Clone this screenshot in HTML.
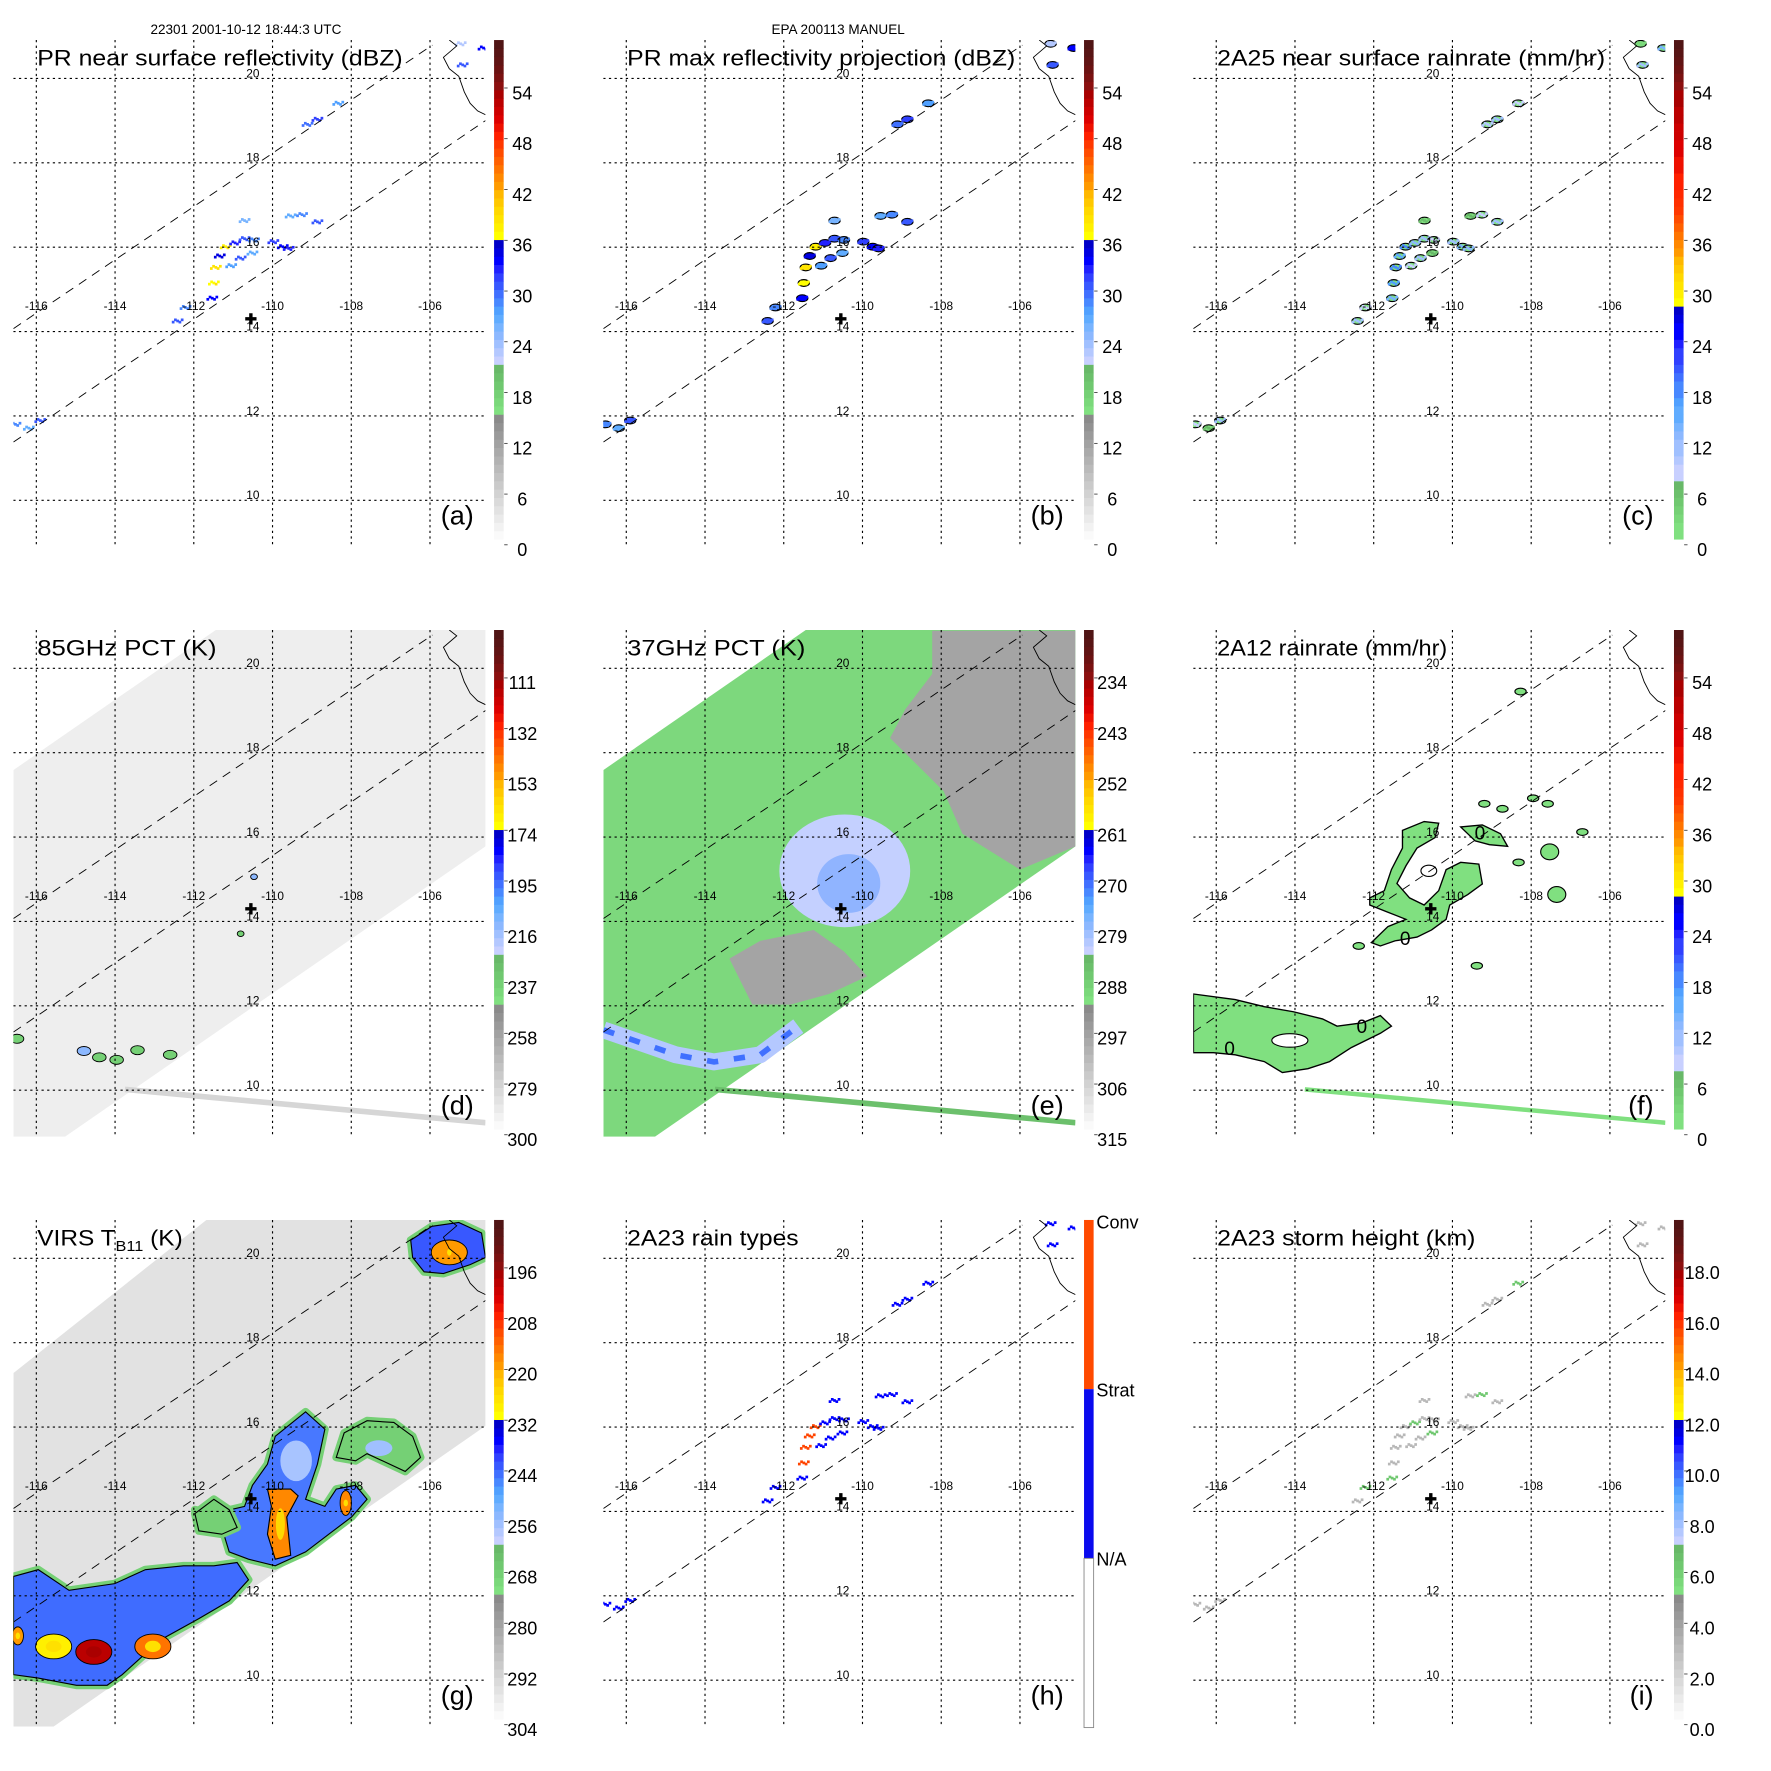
<!DOCTYPE html>
<html><head><meta charset="utf-8"><style>
html,body{margin:0;padding:0;background:#fff;}
svg{display:block;}
</style></head><body>
<svg id="fig" xmlns="http://www.w3.org/2000/svg" viewBox="0 0 1570 1570" width="1771" height="1771" font-family="Liberation Sans, Arial, sans-serif">
<defs><clipPath id="mapclip" clipPathUnits="userSpaceOnUse"><rect x="11.8" y="35.5" width="418.5" height="449.3"/></clipPath></defs>
<rect x="0" y="0" width="1570" height="1570" fill="#fff"/>
<text x="218" y="30" font-size="12" text-anchor="middle">22301 2001-10-12 18:44:3 UTC</text>
<text x="743" y="30" font-size="12" text-anchor="middle">EPA 200113 MANUEL</text>
</svg>
<script>
// ---- data ----
const lonTicks=[-116,-114,-112,-110,-108,-106];
const latTicks=[20,18,16,14,12,10];
const center=[-110.55,14.3];
const echoLon=[-111.53,-111.49,-111.44,-111.34,-111.19,-110.95,-110.71,-110.47,-111.05,-110.81,-110.51,-109.98,-109.74,-109.59,-109.54,-109.25,-108.86,-110.71,-109.11,-108.86,-108.33,-116.53,-116.19,-115.90,-112.41,-112.21,-105.22,-104.64,-105.17];
const echoLat=[14.79,15.15,15.52,15.79,16.01,16.10,16.20,16.17,15.56,15.74,15.86,16.13,16.01,15.97,16.74,16.77,16.60,16.63,18.91,19.03,19.41,11.80,11.71,11.89,14.25,14.57,20.82,20.72,20.32];
const echoVal=[33,36,38,34,37,32,30,28,27,30,26,31,33,32,26,28,30,25,29,31,27,28,26,30,30,28,22,33,30];
const coastLon=[-105.51,-105.32,-105.66,-105.51,-105.27,-105.13,-104.98,-104.79,-104.59];
const coastLat=[20.91,20.77,20.50,20.23,20.05,19.68,19.41,19.23,19.14];
const swathLine1Lon=[-116.58,-105.94], swathLine1Lat=[14.07,20.79];
const swathLine2Lon=[-116.58,-104.59], swathLine2Lat=[11.38,19.0];
const tmiSwathLon=[-116.58,-111.44,-104.59,-104.59,-115.27,-116.58];
const tmiSwathLat=[17.59,20.91,20.91,15.78,8.9,8.9];
const virsSwathLon=[-116.58,-111.68,-104.59,-104.59,-115.56,-116.58];
const virsSwathLat=[17.28,20.91,20.91,16.03,8.9,8.9];
const edgeLineLon=[-113.75,-104.59], edgeLineLat=[10.02,9.23];
const grayNELon=[-108.23,-104.59,-104.59,-106,-107.46,-107.94,-109.3,-108.91,-108.23];
const grayNELat=[20.89,20.89,15.78,15.23,16.08,17.09,18.35,19.03,19.87];
const graySLon=[-113.38,-112.6,-111.24,-110.47,-109.88,-110.85,-111.83,-112.8];
const graySLat=[13.12,13.54,13.8,13.29,12.7,12.28,12.03,12.03];
const blueArcLon=[-116.58,-114.74,-113.77,-112.6,-111.63];
const blueArcLat=[11.43,10.84,10.67,10.84,11.52];
const fCoreLon=[-111.27,-110.72,-110.35,-110.44,-110.90,-111.18,-111.41,-111.09,-110.72,-110.35,-110.16,-109.79,-109.33,-109.24,-109.61,-110.07,-110.16,-110.53,-110.90,-111.46,-111.83,-112.06,-111.64,-111.18,-111.64,-112.10,-112.10,-111.73,-111.55,-111.27];
const fCoreLat=[16.16,16.37,16.33,15.99,15.74,15.32,14.90,14.56,14.39,14.73,15.23,15.40,15.36,14.89,14.64,14.39,14.05,13.80,13.63,13.54,13.42,13.50,13.88,14.05,14.22,14.39,14.56,14.73,15.23,15.74];
const fArmLon=[-109.79,-109.24,-108.78,-108.60,-109.06,-109.42];
const fArmLat=[16.24,16.29,16.08,15.78,15.82,15.91];
const fBandLon=[-116.58,-115.52,-114.78,-114.04,-113.30,-112.93,-112.29,-111.83,-111.55,-111.83,-112.57,-113.12,-113.67,-114.32,-114.78,-115.52,-116.07,-116.58];
const fBandLat=[12.28,12.15,11.98,11.86,11.69,11.52,11.60,11.77,11.52,11.35,11.01,10.68,10.51,10.42,10.68,10.84,10.89,10.89];
const fBlobLon=[-107.53,-107.35,-109.19,-108.73,-107.95,-107.58,-106.70,-108.27,-112.38,-108.32,-109.38];
const fBlobLat=[15.65,14.64,16.79,16.67,16.92,16.79,16.12,19.45,13.42,15.40,12.95];
const fZeroLon=[-109.3,-111.2,-112.3,-115.66], fZeroLat=[16.1,13.6,11.52,11.0];
const dBlobLon=[-116.49,-114.79,-114.40,-113.96,-113.43,-112.60,-110.47,-110.81];
const dBlobLat=[11.22,10.93,10.78,10.72,10.95,10.84,15.06,13.71];
const gBandLon=[-116.58,-115.95,-115.17,-114.01,-113.23,-112.26,-111.49,-110.90,-110.61,-111.10,-111.87,-112.84,-113.82,-114.20,-114.98,-115.95,-116.58];
const gBandLat=[12.46,12.62,12.13,12.29,12.62,12.71,12.71,12.79,12.38,11.88,11.46,10.96,10.13,9.88,9.88,10.05,10.13];
const gCoreLon=[-109.93,-109.16,-108.67,-108.86,-109.16,-108.67,-108.38,-107.89,-107.60,-107.99,-108.57,-109.16,-109.93,-110.61,-111.10,-111.29,-111.87,-111.97,-111.49,-110.71,-110.51,-110.13];
const gCoreLat=[15.78,16.36,15.95,15.12,14.29,14.12,14.53,14.62,14.29,13.87,13.46,13.04,12.71,12.87,13.04,13.62,13.70,14.04,13.95,14.12,14.62,15.12];
const gColdLon=[-110.13,-109.54,-109.35,-109.64,-109.54,-109.93,-110.13,-110.03];
const gColdLat=[14.53,14.53,14.37,13.87,12.96,12.87,13.46,14.12];
const gEastLon=[-108.18,-107.60,-106.92,-106.44,-106.24,-106.63,-107.21,-107.60,-107.89,-108.38];
const gEastLat=[15.86,16.15,16.11,15.78,15.28,14.95,15.20,15.37,15.20,15.28];
const gWestLon=[-111.97,-111.49,-111.10,-110.90,-111.29,-111.87];
const gWestLat=[13.95,14.29,14.04,13.62,13.46,13.54];
const gNELon=[-106.49,-105.95,-105.27,-104.69,-104.59,-104.98,-105.66,-106.15,-106.44];
const gNELat=[20.43,20.76,20.85,20.60,20.02,19.85,19.64,19.68,20.02];
const gColdBlobLon=[-115.56,-114.54,-113.04,-116.47,-108.14,-105.51];
const gColdBlobLat=[10.80,10.67,10.80,11.05,14.20,20.14];
const gColdBlobVal=[37,52,44,42,43,42];
const labelsA=['0','6','12','18','24','30','36','42','48','54'];
const labelsD=['300','279','258','237','216','195','174','153','132','111'];
const labelsE=['315','306','297','288','279','270','261','252','243','234'];
const labelsG=['304','292','280','268','256','244','232','220','208','196'];
const labelsI=['0.0','2.0','4.0','6.0','8.0','10.0','12.0','14.0','16.0','18.0'];

// ---- palettes ----
const greens=['#80e080','#7ad87a','#75d075','#70c870','#6cc06c','#68b868'];
const blues=['#c8d0ff','#b4c8ff','#a0c0ff','#8cb8ff','#78b4ff','#60acff','#50a0ff','#4888ff','#4070ff','#3858ff','#3040ff','#2020ff','#0000ff','#0000e0','#0000c8'];
const yellows=['#ffff00','#fff000','#ffe400','#ffd800','#ffc800','#ffb800'];
const oranges=['#ff9a00','#ff8800','#ff7400','#ff6000','#ff4c00','#ff3800'];
const reds=['#ff2000','#ee1000','#dd0000','#cc0000','#bb0000','#a80000'];
const darks=['#8b1010','#7a1111','#6b1212','#601414','#581515','#501515'];
const cellsA=[];
for(let u=0;u<15;u++){const l=250-u*8;cellsA.push('rgb('+l+','+l+','+l+')');}
cellsA.push(...greens,...blues,...yellows,...oranges,...reds,...darks);
const cellsC=[];
for(let i=0;i<7;i++)cellsC.push(greens[Math.floor(i*6/7)]);
for(let i=0;i<21;i++)cellsC.push(blues[Math.floor(i*15/21)]);
cellsC.push(...yellows.slice(0,5));
cellsC.push(yellows[5],...oranges,'#ff3000','#ff2800');
for(let i=0;i<12;i++)cellsC.push(reds[Math.floor(i/2)]);
cellsC.push(...darks);

// ---- helpers ----
const NS='http://www.w3.org/2000/svg';
const svg=document.getElementById('fig');
function X(lon){return 32.2+(lon+116)*34.9;}
function Y(lat){return 69.5+(20-lat)*37.4;}
function mk(tag,parent){const e=document.createElementNS(NS,tag);parent.appendChild(e);return e;}
function pts(lons,lats){return lons.map((l,i)=>X(l).toFixed(1)+','+Y(lats[i]).toFixed(1)).join(' ');}
function poly(parent,lons,lats,fill,stroke,sw){const p=mk('polygon',parent);p.setAttribute('points',pts(lons,lats));p.setAttribute('fill',fill);p.setAttribute('stroke',stroke||'none');if(sw)p.setAttribute('stroke-width',sw);return p;}
function ell(parent,lon,lat,rx,ry,fill,stroke,sw){const e=mk('ellipse',parent);e.setAttribute('cx',X(lon));e.setAttribute('cy',Y(lat));e.setAttribute('rx',rx);e.setAttribute('ry',ry);e.setAttribute('fill',fill);e.setAttribute('stroke',stroke||'none');if(sw)e.setAttribute('stroke-width',sw);return e;}
const offs=[[0,0],[2,1],[-2,-1],[4,-1],[-4,1]];

const panels=[
 {id:'a',title:'PR near surface reflectivity (dBZ)',tl:324,labels:labelsA,cells:cellsA},
 {id:'b',title:'PR max reflectivity projection (dBZ)',tl:344,labels:labelsA,cells:cellsA},
 {id:'c',title:'2A25 near surface rainrate (mm/hr)',tl:344,labels:labelsA,cells:cellsC},
 {id:'d',title:'85GHz PCT (K)',tl:159,labels:labelsD,cells:cellsA},
 {id:'e',title:'37GHz PCT (K)',tl:158,labels:labelsE,cells:cellsA},
 {id:'f',title:'2A12 rainrate (mm/hr)',tl:204,labels:labelsA,cells:cellsC},
 {id:'g',title:'VIRS',tl:129,labels:labelsG,cells:cellsA},
 {id:'h',title:'2A23 rain types',tl:152,labels:null,cells:null},
 {id:'i',title:'2A23 storm height (km)',tl:229,labels:labelsI,cells:cellsA}
];

panels.forEach((P,k)=>{
 const col=k%3,row=Math.floor(k/3);
 const g=mk('g',svg);
 g.setAttribute('transform','translate('+(col*523)+','+(row*523)+')');
 
 
 const map=mk('g',g);
 map.setAttribute('clip-path','url(#mapclip)');
 
 
 const data=mk('g',map);
 
 

 if(P.id==='d'||P.id==='e'){
  const sw=poly(data,tmiSwathLon,tmiSwathLat,P.id==='d'?'#eeeeee':'#7dd87d');
  
  
  const el=mk('line',data);
  el.setAttribute('x1',X(edgeLineLon[0]));el.setAttribute('y1',Y(edgeLineLat[0]));
  el.setAttribute('x2',X(edgeLineLon[1]));el.setAttribute('y2',Y(edgeLineLat[1]));
  el.setAttribute('stroke',P.id==='d'?'#d6d6d6':'#6cc06c');el.setAttribute('stroke-width','5');
  
  
 }
 if(P.id==='f'){
  const el=mk('line',data);
  el.setAttribute('x1',X(edgeLineLon[0]));el.setAttribute('y1',Y(edgeLineLat[0]));
  el.setAttribute('x2',X(edgeLineLon[1]));el.setAttribute('y2',Y(edgeLineLat[1]));
  el.setAttribute('stroke','#80e080');el.setAttribute('stroke-width','4');
  
  
 }
 if(P.id==='d'){
  dBlobLon.forEach((lon,i)=>{
   const e=ell(data,lon,dBlobLat[i],i>5?3:6,i>5?2.5:4,i===1||i===6?'#8cb8ff':'#75d075','#000','0.8');
   
   
  });
 }
 if(P.id==='e'){
  const a=poly(data,grayNELon,grayNELat,'#a4a4a4');
  
  
  const b=poly(data,graySLon,graySLat,'#a4a4a4');
  
  
  const c=ell(data,center[0]+0.1,center[1]+0.9,58,50,'#c4d0ff');
  
  
  const c2=ell(data,center[0]+0.2,center[1]+0.6,28,26,'#90b4ff');
  
  
  const arc=mk('polyline',data);
  arc.setAttribute('points',pts(blueArcLon,blueArcLat));
  arc.setAttribute('fill','none');arc.setAttribute('stroke','#b4c8ff');arc.setAttribute('stroke-width','15');arc.setAttribute('stroke-linejoin','round');
  
  
  const arc2=mk('polyline',data);
  arc2.setAttribute('points',pts(blueArcLon,blueArcLat));
  arc2.setAttribute('fill','none');arc2.setAttribute('stroke','#4070ff');arc2.setAttribute('stroke-width','5');arc2.setAttribute('stroke-dasharray','10,14');
  
  
 }
 if(P.id==='f'){
  [[fCoreLon,fCoreLat],[fArmLon,fArmLat],[fBandLon,fBandLat]].forEach((s,i)=>{
   const p=poly(data,s[0],s[1],'#80e080','#000','1.2');
   
   
  });
  const h=ell(data,-114.13,11.18,16,6,'#fff','#000','1');
  
  
  const h2=ell(data,-110.6,15.2,7,5,'#fff','#000','1');
  
  
  fBlobLon.forEach((lon,i)=>{
   const e=ell(data,lon,fBlobLat[i],i<2?8:5,i<2?7:3,'#80e080','#000','1');
   
   
  });
  fZeroLon.forEach((lon,i)=>{
   const t=mk('text',data);t.setAttribute('x',X(lon));t.setAttribute('y',Y(fZeroLat[i])+6);
   t.setAttribute('font-size','17');t.setAttribute('text-anchor','middle');t.textContent='0';
   
   
  });
 }
 if(P.id==='g'){
  const sw=poly(data,virsSwathLon,virsSwathLat,'#e2e2e2');
  
  
  const gr=[[gBandLon,gBandLat,'#3f6cff'],[gCoreLon,gCoreLat,'#4878ff'],[gEastLon,gEastLat,'#75d075'],[gWestLon,gWestLat,'#75d075'],[gNELon,gNELat,'#3858ff']];
  gr.forEach((s,i)=>{
   const o=poly(data,s[0],s[1],'#75d075','#75d075','7');
   o.setAttribute('stroke-linejoin','round');
   
   
   const p=poly(data,s[0],s[1],s[2],'#000','1');
   
   
  });
  const lb=ell(data,-109.4,15.2,14,18,'#a8c4ff');
  
  
  const eb=ell(data,-107.3,15.5,12,7,'#a0c0ff');
  
  
  const cold=poly(data,gColdLon,gColdLat,'#ff8800','#000','1');
  
  
  gColdBlobLon.forEach((lon,i)=>{
   const e=ell(data,lon,gColdBlobLat[i],i===4?5:(i===3?5:16),i===4?11:(i===3?8:11),cellsA[gColdBlobVal[i]],'#000','0.8');
   
   
   const y=ell(data,lon,gColdBlobLat[i],i>2?2:7,i>2?3:5,i===1?'#aa0000':'#ffe000');
   
   
  });
  const y2=ell(data,-109.8,13.7,4,14,'#ffd800');
  
  
 }
 if('abchi'.includes(P.id)){
  echoLon.forEach((lon,i)=>{
   const v=echoVal[i];
   let c=cellsA[v];
   if(P.id==='c')c=cellsC[Math.max(0,v-20)];
   if(P.id==='h')c=v>=34?'#ff4400':'#0000ff';
   if(P.id==='i')c=(i%5===0)?'#70c870':'#b8b8b8';
   if(P.id==='b'||P.id==='c'){
    const e=ell(data,lon,echoLat[i],5,3,P.id==='c'?'#80e080':c,'#000','1');
    
    
   }
   offs.forEach((o,j)=>{
    const r=mk('rect',data);
    r.setAttribute('x',X(lon)+o[0]-1.2);r.setAttribute('y',Y(echoLat[i])+o[1]-1.2);
    r.setAttribute('width','2.4');r.setAttribute('height','2.4');
    r.setAttribute('fill',(P.id==='a'&&j===1&&v>=36)?'#ffe000':c);
    
    
   });
  });
 }
 // grid
 const grid=mk('g',map);
 grid.setAttribute('stroke','#000');grid.setAttribute('stroke-width','1');grid.setAttribute('stroke-dasharray','2,3');
 
 
 lonTicks.forEach(lon=>{const l=mk('line',grid);l.setAttribute('x1',X(lon));l.setAttribute('x2',X(lon));l.setAttribute('y1',35.5);l.setAttribute('y2',484.8);
  
  });
 latTicks.forEach(lat=>{const l=mk('line',grid);l.setAttribute('y1',Y(lat));l.setAttribute('y2',Y(lat));l.setAttribute('x1',11.8);l.setAttribute('x2',430.3);
  
  });
 // swath boundaries
 [[swathLine1Lon,swathLine1Lat],[swathLine2Lon,swathLine2Lat]].forEach(s=>{
  const l=mk('line',map);l.setAttribute('x1',X(s[0][0]));l.setAttribute('y1',Y(s[1][0]));l.setAttribute('x2',X(s[0][1]));l.setAttribute('y2',Y(s[1][1]));
  l.setAttribute('stroke','#000');l.setAttribute('stroke-width','0.8');l.setAttribute('stroke-dasharray','8,6');
  
  
 });
 const coast=mk('polyline',map);
 coast.setAttribute('points',pts(coastLon,coastLat));coast.setAttribute('fill','none');coast.setAttribute('stroke','#000');coast.setAttribute('stroke-width','0.8');
 
 
 // tick labels
 lonTicks.forEach(lon=>{const t=mk('text',g);t.setAttribute('x',X(lon));t.setAttribute('y',Y(14.62)+4);t.setAttribute('font-size','10.5');t.setAttribute('text-anchor','middle');t.textContent=String(lon);
  
  });
 latTicks.forEach(lat=>{const t=mk('text',g);t.setAttribute('x',X(-110.5));t.setAttribute('y',Y(lat)-1);t.setAttribute('font-size','10.5');t.setAttribute('text-anchor','middle');t.textContent=String(lat);
  
  });
 // storm centre
 const cp=mk('path',g);
 cp.setAttribute('d','M'+(X(center[0])-5)+','+Y(center[1])+'h10M'+X(center[0])+','+(Y(center[1])-5)+'v10');
 cp.setAttribute('stroke','#000');cp.setAttribute('stroke-width','3');
 
 
 // title
 const tt=mk('text',g);tt.setAttribute('x',33);tt.setAttribute('y',58);tt.setAttribute('font-size','19.5');
 tt.setAttribute('textLength',P.tl);tt.setAttribute('lengthAdjust','spacingAndGlyphs');
 if(P.id==='g'){tt.innerHTML='VIRS T<tspan font-size="13" dy="5">B11</tspan><tspan dy="-5"> (K)</tspan>';}
 else tt.textContent=P.title;
 
 
 const lt=mk('text',g);lt.setAttribute('x',420);lt.setAttribute('y',465);lt.setAttribute('font-size','24');lt.setAttribute('text-anchor','end');lt.textContent='('+P.id+')';
 
 
 // colorbar
 const cb=mk('g',g);
 
 
 if(P.cells){
  P.cells.forEach((c,u)=>{const r=mk('rect',cb);r.setAttribute('x',438);r.setAttribute('y',(478-(u+1)*7.375).toFixed(2));r.setAttribute('width',8.5);r.setAttribute('height',7.7);r.setAttribute('fill',c);
   
   });
  P.labels.forEach((s,i)=>{const yy=487-i*45;
   const tk=mk('line',cb);tk.setAttribute('x1',447);tk.setAttribute('x2',450);tk.setAttribute('y1',yy-4);tk.setAttribute('y2',yy-4);tk.setAttribute('stroke','#000');tk.setAttribute('stroke-width','0.6');
   
   
   const t=mk('text',cb);t.setAttribute('x',463);t.setAttribute('y',yy+6);t.setAttribute('font-size','16');t.setAttribute('text-anchor','middle');t.textContent=s;
   
   });
 } else {
  const segs=[['#ff4a00',35.5],['#0a0aee',185.5],['#ffffff',335.5]];
  segs.forEach(s=>{const r=mk('rect',cb);r.setAttribute('x',438);r.setAttribute('y',s[1]);r.setAttribute('width',8.5);r.setAttribute('height',150);r.setAttribute('fill',s[0]);
   
   });
  const o=mk('rect',cb);o.setAttribute('x',438);o.setAttribute('y',335.5);o.setAttribute('width',8.5);o.setAttribute('height',150);o.setAttribute('fill','none');o.setAttribute('stroke','#888');o.setAttribute('stroke-width','0.8');
  
  
  [['Conv',43],['Strat',192],['N/A',342]].forEach(s=>{const t=mk('text',cb);t.setAttribute('x',449);t.setAttribute('y',s[1]);t.setAttribute('font-size','16');t.textContent=s[0];
   
   });
 }
});
</script>
</body></html>
